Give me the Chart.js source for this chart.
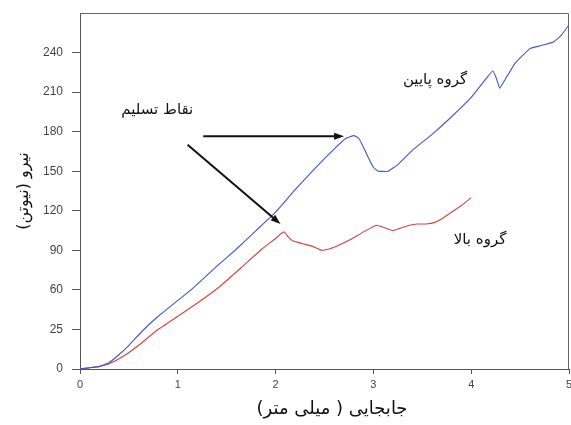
<!DOCTYPE html>
<html>
<head>
<meta charset="utf-8">
<script src="https://cdn.jsdelivr.net/npm/chart.js@4.4.1/dist/chart.umd.min.js"></script>
<style>
html,body{margin:0;padding:0;background:#fff;}
#c{display:block;}
</style>
</head>
<body>
<canvas id="c" width="571" height="425"></canvas>
<script>
// ---- data ----
const xTickValues = [0, 1, 2, 3, 4, 5];
const xTickLabels = ['0', '1', '2', '3', '4', '5'];
const yTickValues = [0, 30, 60, 90, 120, 150, 180, 210, 240];
const yTickLabels = ['0', '25', '60', '90', '120', '150', '180', '210', '240'];

const lowerGroupName = 'گروه پایین';
const lowerX = [0, 0.1, 0.2, 0.3, 0.4, 0.5, 0.64, 0.8, 1.0, 1.15, 1.4, 1.6, 1.8, 2.0, 2.2, 2.4, 2.6, 2.72, 2.8, 2.85, 2.9, 2.95, 3.0, 3.05, 3.15, 3.25, 3.4, 3.6, 3.78, 4.0, 4.15, 4.22, 4.26, 4.29, 4.35, 4.45, 4.6, 4.7, 4.84, 4.92, 5.0];
const lowerY = [0, 1, 2, 5, 11, 18, 29, 40, 52, 61, 78, 91, 105, 119, 136, 152, 167, 175, 177, 175, 168, 160, 153, 150, 150, 155, 166, 178, 190, 206, 220, 226, 220, 213, 220, 232, 243, 245, 248, 253, 261];

const upperGroupName = 'گروه بالا';
const upperX = [0, 0.1, 0.2, 0.3, 0.45, 0.6, 0.78, 1.0, 1.2, 1.42, 1.65, 1.86, 2.0, 2.06, 2.09, 2.13, 2.18, 2.28, 2.38, 2.47, 2.55, 2.65, 2.76, 2.9, 3.03, 3.12, 3.2, 3.28, 3.37, 3.45, 3.54, 3.62, 3.7, 3.78, 3.9, 4.0];
const upperY = [0, 1, 2, 4, 10, 18, 29, 40, 50, 62, 77, 91, 99, 103, 104, 100, 97, 95, 93, 90, 91, 94, 98, 104, 109, 107, 105, 107, 109, 110, 110, 111, 114, 118, 124, 130];

const xTitle = 'جابجایی ( میلی متر)';
const yTitle = 'نیرو (نیوتن)';
const yieldLabel = 'نقاط تسلیم';

function pts(xs, ys) { return xs.map((x, i) => ({ x: x, y: ys[i] })); }

const arabicFont = '"DejaVu Sans", "Noto Sans", sans-serif';

const decor = {
  id: 'decor',
  beforeDraw(chart) {
    const ctx = chart.ctx;
    ctx.save();
    ctx.fillStyle = '#fff';
    ctx.fillRect(0, 0, chart.width, chart.height);
    ctx.restore();
  },
  afterDraw(chart) {
    const ctx = chart.ctx;
    const a = chart.chartArea;
    const xs = chart.scales.x, ys = chart.scales.y;
    const px = v => xs.getPixelForValue(v);
    const py = v => ys.getPixelForValue(v);
    ctx.save();
    // top and right frame
    ctx.strokeStyle = '#666';
    ctx.lineWidth = 1;
    ctx.beginPath();
    ctx.moveTo(a.left, a.top + 0.5);
    ctx.lineTo(a.right - 0.5, a.top + 0.5);
    ctx.lineTo(a.right - 0.5, a.bottom);
    ctx.stroke();

    // texts
    ctx.fillStyle = '#111';
    ctx.direction = 'rtl';
    ctx.textAlign = 'center';
    ctx.textBaseline = 'middle';
    ctx.font = '15px ' + arabicFont;
    ctx.fillText(yieldLabel, px(0.79), py(196));
    ctx.fillText(lowerGroupName, px(3.63), py(219));
    ctx.fillText(upperGroupName, px(4.09), py(98));

    ctx.font = '18px ' + arabicFont;
    ctx.fillText(xTitle, 332, 409);

    ctx.save();
    ctx.translate(24, 191);
    ctx.rotate(-Math.PI / 2);
    ctx.font = '16px ' + arabicFont;
    ctx.fillText(yTitle, 0, 0);
    ctx.restore();

    // arrows
    function arrow(x1, y1, x2, y2) {
      const X1 = px(x1), Y1 = py(y1), X2 = px(x2), Y2 = py(y2);
      const ang = Math.atan2(Y2 - Y1, X2 - X1);
      const hl = 10, hw = 3.5;
      ctx.strokeStyle = '#111';
      ctx.fillStyle = '#111';
      ctx.lineWidth = 2;
      ctx.beginPath();
      ctx.moveTo(X1, Y1);
      ctx.lineTo(X2 - hl * Math.cos(ang), Y2 - hl * Math.sin(ang));
      ctx.stroke();
      ctx.beginPath();
      ctx.moveTo(X2, Y2);
      ctx.lineTo(X2 - hl * Math.cos(ang) + hw * Math.sin(ang), Y2 - hl * Math.sin(ang) - hw * Math.cos(ang));
      ctx.lineTo(X2 - hl * Math.cos(ang) - hw * Math.sin(ang), Y2 - hl * Math.sin(ang) + hw * Math.cos(ang));
      ctx.closePath();
      ctx.fill();
    }
    arrow(1.26, 176.5, 2.70, 176.5);
    arrow(1.10, 170, 2.05, 110);
    ctx.restore();
  }
};

new Chart(document.getElementById('c'), {
  type: 'line',
  data: {
    datasets: [
      { label: lowerGroupName, data: pts(lowerX, lowerY), borderColor: '#3f56c6', borderWidth: 1.1, pointRadius: 0, tension: 0.1 },
      { label: upperGroupName, data: pts(upperX, upperY), borderColor: '#d8413f', borderWidth: 1.1, pointRadius: 0, tension: 0.1 }
    ]
  },
  options: {
    responsive: false,
    animation: false,
    layout: { padding: { top: 13, right: 2, left: 0, bottom: 0 } },
    plugins: { legend: { display: false }, tooltip: { enabled: false } },
    scales: {
      x: {
        type: 'linear', min: 0, max: 5,
        afterFit(s) { s.height = 56; s.paddingLeft = 0; s.paddingRight = 0; },
        afterBuildTicks(s) { s.ticks = xTickValues.map(v => ({ value: v })); },
        ticks: {
          padding: 4, color: '#444', maxRotation: 0,
          font: { family: '"Liberation Sans", Arial, sans-serif', size: 11 },
          callback: (v) => xTickLabels[xTickValues.indexOf(v)]
        },
        grid: { drawOnChartArea: false, drawTicks: true, tickLength: 5, color: '#555' },
        border: { display: true, color: '#555', width: 1 }
      },
      y: {
        type: 'linear', min: 0, max: 270,
        afterFit(s) { s.width = 80; s.paddingTop = 0; s.paddingBottom = 0; },
        afterBuildTicks(s) { s.ticks = yTickValues.map(v => ({ value: v })); },
        ticks: {
          padding: 9, color: '#444',
          font: { family: '"Liberation Sans", Arial, sans-serif', size: 12 },
          callback: (v) => yTickLabels[yTickValues.indexOf(v)]
        },
        grid: { drawOnChartArea: false, drawTicks: true, tickLength: 8, color: '#555' },
        border: { display: true, color: '#555', width: 1 }
      }
    }
  },
  plugins: [decor]
});
</script>
</body>
</html>
